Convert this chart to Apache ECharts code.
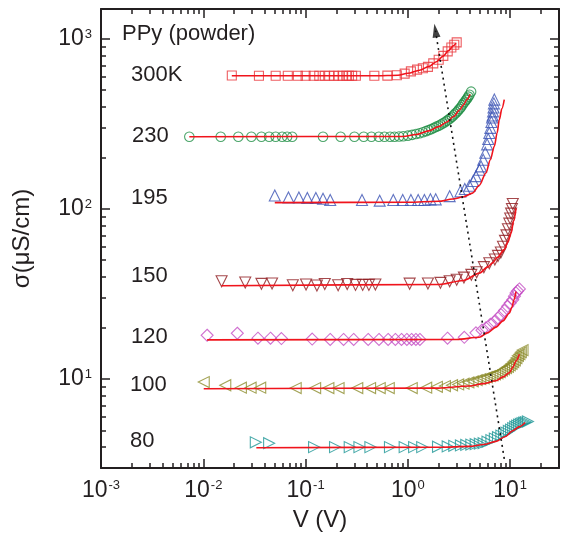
<!DOCTYPE html>
<html><head><meta charset="utf-8">
<script src="https://cdn.jsdelivr.net/npm/echarts@6/dist/echarts.min.js"></script>
<style>html,body{margin:0;padding:0;background:#fff}#c{width:567px;height:544px}</style>
</head><body><div id="c"></div>
<script>
// ---------------- data ----------------
const xRange = [0.001, 30];
const yRange = [3, 1500];
const xTickMajor = [0.001, 0.01, 0.1, 1, 10];
const xTickMinor = [0.002,0.003,0.004,0.005,0.006,0.007,0.008,0.009,0.02,0.03,0.04,0.05,0.06,0.07,0.08,0.09,0.2,0.3,0.4,0.5,0.6,0.7,0.8,0.9,2,3,4,5,6,7,8,9,20];
const yTickMajor = [10, 100, 1000];
const yTickMinor = [4,5,6,7,8,9,20,30,40,50,60,70,80,90,200,300,400,500,600,700,800,900];

const pts300 = [[0.019,610],[0.035,608],[0.051,608],[0.067,608],[0.084,608],[0.10,608],[0.12,608],[0.136,608],[0.154,608],[0.17,608],[0.19,608],[0.21,608],[0.23,608],[0.25,608],[0.265,608],[0.285,608],[0.31,608],[0.47,608],[0.63,609],[0.78,612],[0.93,625],[1.07,645],[1.23,660],[1.4,672],[1.57,685],[1.77,718],[2.0,755],[2.22,795],[2.45,845],[2.66,890],[2.84,925],[3.0,955]];
const fit300 = [[0.019,608],[0.5,608],[0.8,612],[1.0,628],[1.3,655],[1.6,688],[1.9,735],[2.2,790],[2.5,855],[2.8,915],[2.95,945]];

const pts230 = [[0.0073,266],[0.0148,266],[0.022,266],[0.0295,266],[0.037,266],[0.044,266],[0.051,266],[0.059,266],[0.066,266],[0.074,266],[0.148,266],[0.22,266],[0.30,266],[0.37,266],[0.44,266],[0.52,266],[0.59,266],[0.67,266],[0.74,266],[0.82,267],[0.9,268],[1.0,270],[1.1,273],[1.2,276],[1.3,279],[1.4,283],[1.5,287],[1.6,291],[1.7,295],[1.8,300],[1.9,305],[2.0,309],[2.1,314],[2.2,319],[2.3,324],[2.4,330],[2.5,336],[2.6,342],[2.7,349],[2.8,356],[2.9,364],[3.0,371],[3.1,379],[3.2,388],[3.3,397],[3.4,408],[3.5,418],[3.6,428],[3.7,438],[3.8,447],[3.9,458],[4.0,470],[4.15,490]];
const fit230 = [[0.0073,266],[0.9,267],[1.2,274],[1.6,288],[2.0,305],[2.4,325],[2.8,350],[3.2,382],[3.5,410],[3.8,442],[4.05,472]];

const pts195 = [[0.050,120],[0.068,117],[0.086,117],[0.104,116],[0.126,116],[0.148,115],[0.174,113],[0.356,113],[0.53,112],[0.72,113],[0.89,113],[1.07,113],[1.26,113],[1.45,113],[1.66,114],[1.87,114],[2.56,119],[3.26,127],[3.6,131],[4.0,137],[4.35,146],[4.63,156],[5.0,170],[5.19,178],[5.45,195],[5.71,214],[5.95,240],[6.1,258],[6.25,280],[6.4,300],[6.55,325],[6.65,345],[6.73,355],[6.8,375],[6.87,395],[6.93,418],[7.0,440]];
const fit195 = [[0.05,109],[1.0,109.5],[2.0,111],[2.74,114.5],[3.5,118],[4.28,124],[5.0,138],[5.79,163],[6.4,195],[7.0,234],[7.45,280],[7.83,336],[8.3,390],[8.75,440]];

const pts150 = [[0.0151,37.6],[0.0257,37],[0.037,36.3],[0.047,36.5],[0.075,35.6],[0.101,36],[0.129,35.5],[0.154,36.2],[0.208,35.6],[0.255,36.2],[0.308,35.8],[0.362,35.8],[0.416,35.8],[0.481,36],[1.04,36.4],[1.57,36.5],[2.08,36.8],[2.56,37.6],[3.0,38.4],[3.53,39.5],[4.17,41],[4.7,42.5],[5.53,45.5],[6.25,48],[7.08,50.5],[7.6,53],[8.1,55.5],[8.5,60],[8.9,65],[9.2,70],[9.5,76],[9.8,82],[10.0,88],[10.2,94],[10.4,100],[10.6,107]];
const fit150 = [[0.0151,35.4],[2.0,36],[3.5,38],[5.0,42],[6.0,45.5],[6.73,48.2],[7.5,52],[8.75,57.7],[9.5,64],[10.2,72],[10.8,85],[11.4,101]];

const pts120 = [[0.0109,18.1],[0.0215,18.6],[0.0342,17.4],[0.0454,17.4],[0.058,17.3],[0.116,17.2],[0.174,17.1],[0.235,17.1],[0.295,17.1],[0.409,17.1],[0.522,17.1],[0.641,17.1],[0.754,17.1],[0.866,17.1],[0.977,17.1],[1.087,17.1],[1.197,17.1],[1.31,17.1],[2.44,17.4],[3.56,17.6],[4.63,18.7],[5.3,19.4],[5.8,20.0],[6.4,21.0],[7.0,21.8],[7.6,22.8],[8.13,23.9],[8.8,25.3],[9.44,26.8],[10.0,28.0],[10.6,29.3],[11.0,30.7],[11.4,32.1],[11.8,33.0],[12.3,33.9]];
const fit120 = [[0.0109,17.0],[3.0,17.1],[4.99,17.6],[6.0,18.7],[7.26,20.2],[8.5,22.0],[9.8,24.4],[10.4,26.5],[10.9,29.3],[11.4,32.7]];

const pts100 = [[0.0101,9.6],[0.0164,9.2],[0.0233,8.9],[0.029,8.9],[0.036,8.9],[0.080,8.85],[0.124,8.85],[0.167,8.85],[0.21,8.85],[0.32,8.85],[0.427,8.85],[0.53,8.85],[0.65,8.85],[1.09,8.85],[1.51,8.9],[1.92,9.0],[2.3,9.1],[2.7,9.2],[3.1,9.3],[3.5,9.4],[3.9,9.55],[4.3,9.7],[4.7,9.85],[5.1,10.0],[5.5,10.1],[5.9,10.25],[6.3,10.4],[6.7,10.5],[7.1,10.65],[7.5,10.8],[7.9,11.0],[8.3,11.2],[8.7,11.4],[9.1,11.6],[9.5,11.8],[9.9,12.05],[10.3,12.3],[10.7,12.6],[11.1,12.9],[11.5,13.3],[11.9,13.7],[12.3,14.0],[12.7,14.4],[13.2,14.8]];
const fit100 = [[0.0101,8.77],[2,8.85],[4,9.1],[5.5,9.4],[7.26,9.77],[8.5,10.3],[9.8,10.9],[10.7,11.8],[11.4,12.8],[12.3,14.0]];

const pts80 = [[0.0326,4.25],[0.044,4.2],[0.121,3.98],[0.194,3.98],[0.27,3.98],[0.336,3.98],[0.43,3.98],[0.668,3.98],[0.93,3.98],[1.15,3.98],[1.38,3.98],[1.97,4.0],[2.45,4.02],[2.84,4.05],[3.3,4.07],[3.72,4.1],[4.17,4.12],[4.6,4.14],[5.05,4.17],[5.5,4.2],[6.0,4.28],[6.55,4.38],[7.08,4.47],[7.6,4.55],[8.2,4.65],[8.7,4.75],[9.2,4.85],[9.7,4.95],[10.2,5.05],[10.7,5.15],[11.2,5.25],[11.7,5.33],[12.2,5.4],[12.7,5.46],[13.2,5.51],[13.7,5.55],[14.2,5.59],[14.9,5.63]];
const fit80 = [[0.033,3.95],[2,3.97],[4,4.02],[5.5,4.12],[7.26,4.3],[9,4.6],[10.6,4.97],[12.3,5.25],[14,5.56]];

const guidePts = [[8.75,3.4],[1.86,1120]];

const curveLabels = ['PPy (powder)','300K','230','195','150','120','100','80'];
const xTitle = 'V (V)';
const yTitle = 'σ(μS/cm)';

// ---------------- styles / layout ----------------
const FONT = "'Liberation Sans', Arial, Helvetica, sans-serif";
const AX = '#231f20';
const FIT = '#f0141c';
const groups = [
  {pts: pts300, fit: fit300, symbol:'rect', size:9, rot:0, color:'#e8343a'},
  {pts: pts230, fit: fit230, symbol:'circle', size:9.5, rot:0, color:'#1f8f45'},
  {pts: pts195, fit: fit195, symbol:'triangle', size:11, rot:0, color:'#3b52b4'},
  {pts: pts150, fit: fit150, symbol:'triangle', size:11, rot:180, color:'#8e1a1e'},
  {pts: pts120, fit: fit120, symbol:'diamond', size:12, rot:0, color:'#c44ec4'},
  {pts: pts100, fit: fit100, symbol:'triangle', size:11, rot:90, color:'#8c8c2c'},
  {pts: pts80, fit: fit80, symbol:'triangle', size:11, rot:-90, color:'#1e9696'}
];
const labelPos = [[122,35],[131,76],[132,137],[131,199],[131,277],[131,338],[130,386],[130,442]];

function fmtPow(v){ const e = Math.round(Math.log10(v)); return '{b|10}{s|' + e + '}'; }
const rich = { b:{fontSize:23, fontFamily:FONT, color:AX}, s:{fontSize:13, fontFamily:FONT, color:AX, verticalAlign:'top', padding:[0,0,0,1]} };

function axis(kind, pos, ticks, len, showLabel, showLine){
  const r = kind === 'x' ? xRange : yRange;
  return {
    type:'log', logBase:10, position:pos, min:r[0], max:r[1],
    axisLine:{show:showLine, onZero:false, lineStyle:{color:AX, width:2}},
    axisTick:{show:true, inside:true, length:len, customValues:ticks, lineStyle:{color:AX, width:1.5}},
    axisLabel: showLabel ? {show:true, customValues:ticks, formatter:fmtPow, rich:rich, margin: kind==='x'?11:9} : {show:false},
    splitLine:{show:false}, minorTick:{show:false}, minorSplitLine:{show:false}
  };
}

const xAxes = [
  Object.assign(axis('x','bottom',xTickMajor,9,true,true), {name:xTitle, nameLocation:'middle', nameGap:40, nameTextStyle:{fontSize:24, fontFamily:FONT, color:AX, padding:[0,20,0,0]}}),
  axis('x','bottom',xTickMinor,5,false,false),
  axis('x','top',xTickMajor,9,false,true),
  axis('x','top',xTickMinor,5,false,false)
];
const yAxes = [
  Object.assign(axis('y','left',yTickMajor,9,true,true), {name:yTitle, nameLocation:'middle', nameGap:67, nameRotate:90, nameTextStyle:{fontSize:24, fontFamily:FONT, color:AX}}),
  axis('y','left',yTickMinor,5,false,false),
  axis('y','right',yTickMajor,9,false,true),
  axis('y','right',yTickMinor,5,false,false)
];

const series = [];
groups.forEach(g => {
  series.push({type:'scatter', data:g.pts, symbol:g.symbol, symbolSize:g.size, symbolRotate:g.rot,
    itemStyle:{color:'rgba(255,255,255,0)', borderColor:g.color, borderWidth:1.1}, z:2, silent:true});
});
groups.forEach(g => {
  series.push({type:'line', data:g.fit, symbol:'none', showSymbol:false, smooth:0.3, smoothMonotone:'x',
    lineStyle:{color:FIT, width:1.6}, z:3, silent:true});
});
// dotted guide line with filled arrowhead at its upper end
series.push({type:'line', data:guidePts, symbol:'none', showSymbol:false, z:4, silent:true,
  lineStyle:{color:'#111', type:[2,4], width:1.6}});
series.push({type:'scatter', data:[guidePts[1]], symbol:'triangle', symbolSize:[8,14], symbolRotate:9, z:5, silent:true,
  itemStyle:{color:'#111'}});

const chart = echarts.init(document.getElementById('c'), null, {renderer:'canvas'});
chart.setOption({
  animation:false,
  backgroundColor:'#fff',
  grid:{left:101, right:8, top:9, bottom:76, containLabel:false, outerBoundsMode:'none'},
  xAxis:xAxes, yAxis:yAxes, series:series,
  graphic: curveLabels.map((t,i) => ({type:'text', left:labelPos[i][0], top:labelPos[i][1]-12,
    style:{text:t, fontSize:22, fontFamily:FONT, fill:AX}}))
});
</script></body></html>
